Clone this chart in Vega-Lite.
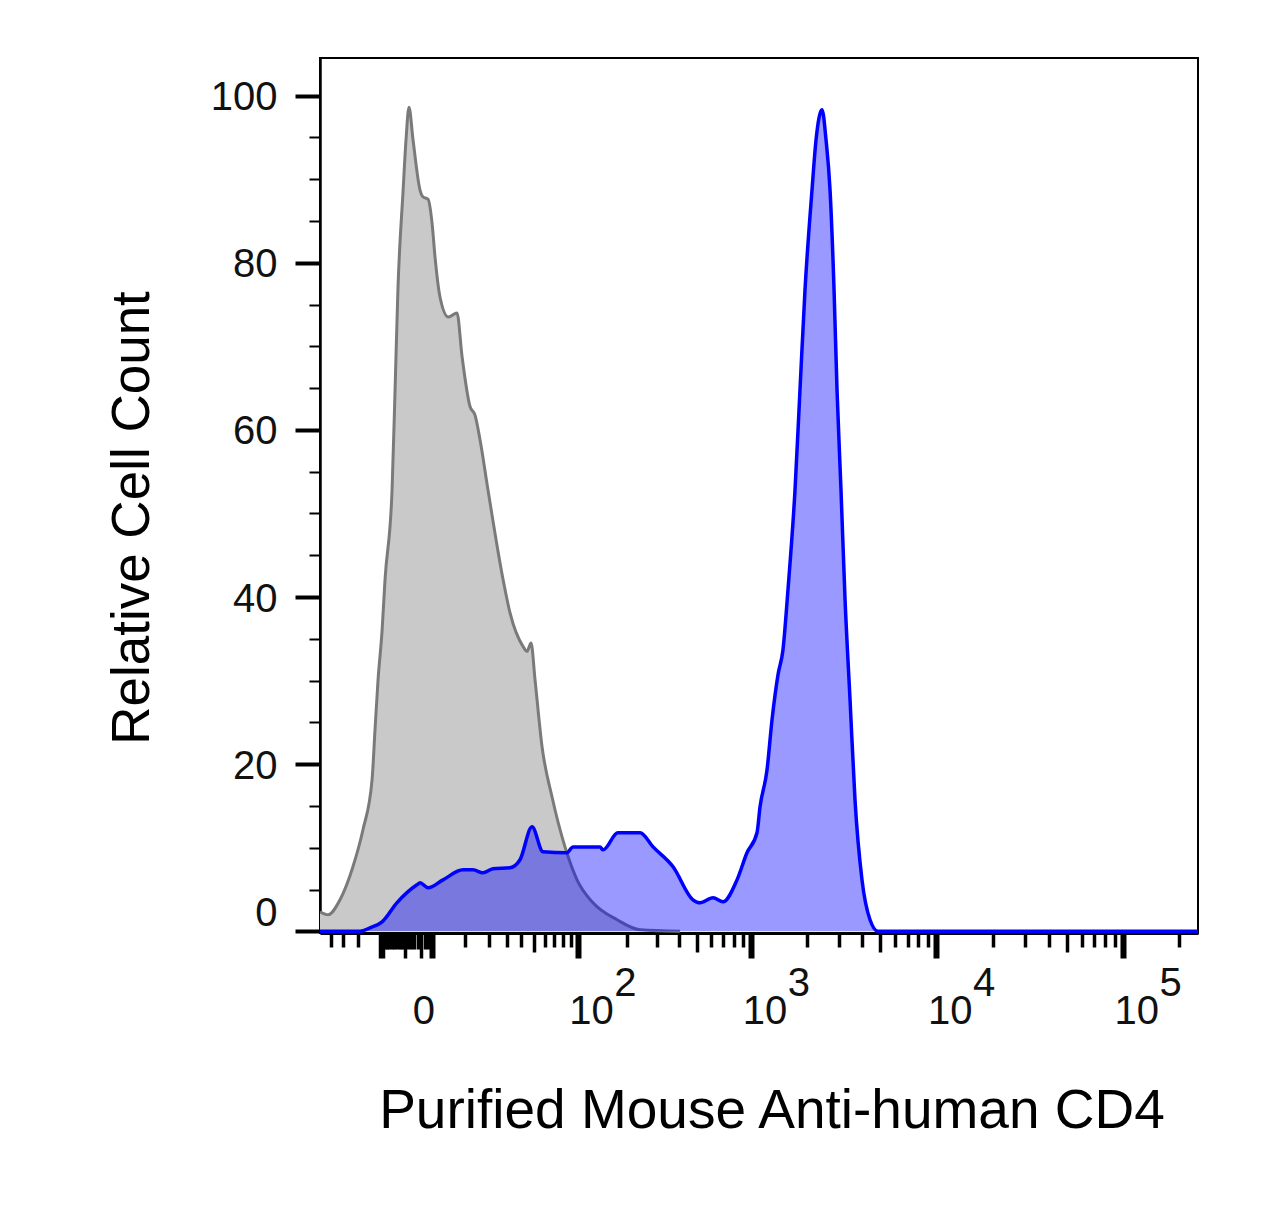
{
  "$schema": "https://vega.github.io/schema/vega-lite/v6.json",
  "autosize": {"type": "none"},
  "padding": {"left": 320, "top": 58, "right": 89, "bottom": 290},
  "width": 878,
  "height": 875,
  "background": "white",
  "config": {
    "view": {"stroke": "#000000", "strokeWidth": 2},
    "axis": {"labelFont": "Liberation Sans", "titleFont": "Liberation Sans", "labelColor": "#111111", "titleColor": "#000000", "grid": false}
  },
  "datasets": {
    "hist": [
      {"sample": "control", "x": -60, "count": 2.33},
      {"sample": "control", "x": -52.5, "count": 1.97},
      {"sample": "control", "x": -42.5, "count": 3.77},
      {"sample": "control", "x": -33.3, "count": 7.72},
      {"sample": "control", "x": -27.1, "count": 12.15},
      {"sample": "control", "x": -22.1, "count": 18.13},
      {"sample": "control", "x": -20.6, "count": 24.1},
      {"sample": "control", "x": -19.1, "count": 30.1},
      {"sample": "control", "x": -17.2, "count": 36.0},
      {"sample": "control", "x": -15.9, "count": 42.0},
      {"sample": "control", "x": -12.9, "count": 52.8},
      {"sample": "control", "x": -11.7, "count": 64.8},
      {"sample": "control", "x": -10.6, "count": 76.8},
      {"sample": "control", "x": -8.7, "count": 88.7},
      {"sample": "control", "x": -7.7, "count": 94.7},
      {"sample": "control", "x": -6.7, "count": 98.6},
      {"sample": "control", "x": -5.4, "count": 94.7},
      {"sample": "control", "x": -3.3, "count": 88.7},
      {"sample": "control", "x": -2.5, "count": 87.9},
      {"sample": "control", "x": -1.1, "count": 87.6},
      {"sample": "control", "x": -0.1, "count": 84.8},
      {"sample": "control", "x": 0.65, "count": 80.7},
      {"sample": "control", "x": 1.96, "count": 75.9},
      {"sample": "control", "x": 4.35, "count": 73.5},
      {"sample": "control", "x": 7.08, "count": 74.0},
      {"sample": "control", "x": 8.82, "count": 68.8},
      {"sample": "control", "x": 11.8, "count": 62.8},
      {"sample": "control", "x": 13.8, "count": 61.8},
      {"sample": "control", "x": 16.0, "count": 58.8},
      {"sample": "control", "x": 19.7, "count": 52.8},
      {"sample": "control", "x": 27.8, "count": 42.1},
      {"sample": "control", "x": 32.1, "count": 38.1},
      {"sample": "control", "x": 41.1, "count": 34.1},
      {"sample": "control", "x": 44.2, "count": 33.5},
      {"sample": "control", "x": 47.5, "count": 34.5},
      {"sample": "control", "x": 50.9, "count": 30.1},
      {"sample": "control", "x": 57.3, "count": 22.1},
      {"sample": "control", "x": 67.4, "count": 16.1},
      {"sample": "control", "x": 82.6, "count": 10.1},
      {"sample": "control", "x": 99, "count": 6.16},
      {"sample": "control", "x": 125, "count": 3.41},
      {"sample": "control", "x": 175, "count": 1.38},
      {"sample": "control", "x": 239, "count": 0.18},
      {"sample": "control", "x": 404, "count": 0},
      {"sample": "cd4", "x": -60, "count": 0},
      {"sample": "cd4", "x": -28.8, "count": 0},
      {"sample": "cd4", "x": -23.2, "count": 0.42},
      {"sample": "cd4", "x": -17.2, "count": 1.14},
      {"sample": "cd4", "x": -11.0, "count": 3.41},
      {"sample": "cd4", "x": -4.2, "count": 5.57},
      {"sample": "cd4", "x": -3.3, "count": 5.8},
      {"sample": "cd4", "x": -1.1, "count": 5.21},
      {"sample": "cd4", "x": 2.79, "count": 6.16},
      {"sample": "cd4", "x": 9.16, "count": 7.36},
      {"sample": "cd4", "x": 13.0, "count": 7.36},
      {"sample": "cd4", "x": 17.3, "count": 7.0},
      {"sample": "cd4", "x": 22.2, "count": 7.48},
      {"sample": "cd4", "x": 32.1, "count": 7.6},
      {"sample": "cd4", "x": 38.9, "count": 8.56},
      {"sample": "cd4", "x": 48.3, "count": 12.5},
      {"sample": "cd4", "x": 58.2, "count": 9.52},
      {"sample": "cd4", "x": 85.2, "count": 9.4},
      {"sample": "cd4", "x": 93.2, "count": 10.1},
      {"sample": "cd4", "x": 138, "count": 10.1},
      {"sample": "cd4", "x": 144, "count": 9.75},
      {"sample": "cd4", "x": 177, "count": 11.8},
      {"sample": "cd4", "x": 239, "count": 11.8},
      {"sample": "cd4", "x": 284, "count": 10.1},
      {"sample": "cd4", "x": 369, "count": 7.72},
      {"sample": "cd4", "x": 477, "count": 3.77},
      {"sample": "cd4", "x": 522, "count": 3.41},
      {"sample": "cd4", "x": 617, "count": 4.01},
      {"sample": "cd4", "x": 700, "count": 3.53},
      {"sample": "cd4", "x": 836, "count": 6.16},
      {"sample": "cd4", "x": 948, "count": 9.4},
      {"sample": "cd4", "x": 1075, "count": 11.8},
      {"sample": "cd4", "x": 1117, "count": 14.9},
      {"sample": "cd4", "x": 1219, "count": 19.3},
      {"sample": "cd4", "x": 1298, "count": 25.3},
      {"sample": "cd4", "x": 1399, "count": 30.7},
      {"sample": "cd4", "x": 1489, "count": 33.7},
      {"sample": "cd4", "x": 1585, "count": 40.9},
      {"sample": "cd4", "x": 1730, "count": 52.8},
      {"sample": "cd4", "x": 1841, "count": 64.8},
      {"sample": "cd4", "x": 1960, "count": 76.8},
      {"sample": "cd4", "x": 2138, "count": 88.7},
      {"sample": "cd4", "x": 2248, "count": 94.7},
      {"sample": "cd4", "x": 2422, "count": 98.3},
      {"sample": "cd4", "x": 2546, "count": 94.7},
      {"sample": "cd4", "x": 2676, "count": 88.7},
      {"sample": "cd4", "x": 2812, "count": 76.8},
      {"sample": "cd4", "x": 2918, "count": 64.8},
      {"sample": "cd4", "x": 3066, "count": 52.8},
      {"sample": "cd4", "x": 3224, "count": 39.7},
      {"sample": "cd4", "x": 3430, "count": 27.7},
      {"sample": "cd4", "x": 3648, "count": 15.7},
      {"sample": "cd4", "x": 3978, "count": 6.16},
      {"sample": "cd4", "x": 4394, "count": 1.38},
      {"sample": "cd4", "x": 4852, "count": 0},
      {"sample": "cd4", "x": 252000, "count": 0}
    ]
  },
  "data": {"name": "hist"},
  "encoding": {
    "x": {
      "field": "x",
      "type": "quantitative",
      "scale": {"type": "symlog", "constant": 20, "domain": [-60, 252000], "nice": false, "zero": false},
      "axis": {
        "orient": "bottom",
        "title": "Purified Mouse Anti-human CD4",
        "titleFontSize": 55,
        "titleFontWeight": "normal",
        "titleX": 451.5,
        "titleY": 194,
        "titleAlign": "center",
        "titleBaseline": "alphabetic",
        "values": [-50, -40, -30, -18, -17, -16, -15, -14, -13, -12, -11, -10, -9, -8, -7, -6, -5, -4, -3, -2, -1, 0, 10, 20, 30, 40, 50, 60, 70, 80, 90, 100, 200, 300, 400, 500, 600, 700, 800, 900, 1000, 2000, 3000, 4000, 5000, 6000, 7000, 8000, 9000, 10000, 20000, 30000, 40000, 50000, 60000, 70000, 80000, 90000, 100000, 200000],
        "domainColor": "#000000",
        "domainWidth": 3,
        "tickColor": "#000000",
        "tickSize": {"condition": [
          {"test": "indexof([0, 100, 1000, 10000, 100000, -18, -17, -8, -3], datum.value) >= 0", "value": 25},
          {"test": "datum.value < 0 && datum.value > -20", "value": 16},
          {"test": "indexof([50, 500, 5000, 50000], datum.value) >= 0", "value": 19}
        ], "value": 14},
        "tickWidth": {"condition": {"test": "indexof([0, 100, 1000, 10000, 100000], datum.value) >= 0", "value": 6}, "value": 3.5},
        "labelExpr": "datum.value === 0 ? '0' : (indexof([100, 1000, 10000, 100000], datum.value) >= 0 ? '10' : '')",
        "labelFontSize": 40,
        "labelBaseline": "alphabetic",
        "labelAlign": {"condition": {"test": "datum.value === 0", "value": "center"}, "value": "left"},
        "labelOffset": -9,
        "labelPadding": 65,
        "labelOverlap": false,
        "labelBound": false,
        "labelFlush": false
      }
    },
    "y": {
      "field": "count",
      "type": "quantitative",
      "stack": null,
      "scale": {"domain": [-0.2, 104.5], "nice": false, "zero": false},
      "axis": {
        "title": "Relative Cell Count",
        "titleFontSize": 53,
        "titleFontWeight": "normal",
        "titleAngle": 270,
        "titleX": -172,
        "titleY": 459.5,
        "titleAlign": "center",
        "titleBaseline": "alphabetic",
        "values": [0, 5, 10, 15, 20, 25, 30, 35, 40, 45, 50, 55, 60, 65, 70, 75, 80, 85, 90, 95, 100],
        "format": "d",
        "domainColor": "#000000",
        "domainWidth": 2.5,
        "tickColor": "#000000",
        "tickSize": {"condition": {"test": "datum.value % 20 === 0", "value": 25}, "value": 11},
        "tickWidth": {"condition": {"test": "datum.value % 20 === 0", "value": 4}, "value": 2},
        "labelExpr": "datum.value % 20 === 0 ? datum.label : ''",
        "labelFontSize": 40,
        "labelPadding": 18,
        "labelOffset": 2,
        "labelFlush": 5,
        "labelOverlap": false,
        "labelBound": false
      }
    }
  },
  "layer": [
    {
      "transform": [{"filter": "datum.sample === 'control'"}],
      "mark": {"type": "area", "color": "#c9c9c9", "interpolate": "monotone", "clip": true}
    },
    {
      "transform": [{"filter": "datum.sample === 'control'"}],
      "mark": {"type": "line", "color": "#7a7a7a", "strokeWidth": 3, "interpolate": "monotone", "clip": true},
      "encoding": {"x": {"field": "x", "type": "quantitative", "axis": null}}
    },
    {
      "transform": [{"filter": "datum.sample === 'cd4'"}],
      "mark": {"type": "area", "color": "#0000ff", "opacity": 0.4, "interpolate": "monotone", "clip": true},
      "encoding": {"x": {"field": "x", "type": "quantitative", "axis": null}}
    },
    {
      "transform": [{"filter": "datum.sample === 'cd4'"}],
      "mark": {"type": "line", "color": "#0000ff", "strokeWidth": 3.5, "interpolate": "monotone", "clip": true},
      "encoding": {
        "x": {
          "field": "x",
          "type": "quantitative",
          "axis": {
            "orient": "bottom",
            "title": null,
            "values": [100, 1000, 10000, 100000],
            "labelExpr": "datum.value === 100 ? '2' : (datum.value === 1000 ? '3' : (datum.value === 10000 ? '4' : '5'))",
            "domain": false,
            "ticks": false,
            "labelFontSize": 40,
            "labelBaseline": "alphabetic",
            "labelAlign": "left",
            "labelOffset": 36,
            "labelPadding": 62,
            "labelOverlap": false,
            "labelBound": false,
            "labelFlush": false
          }
        }
      }
    }
  ],
  "resolve": {"axis": {"x": "independent"}}
}
